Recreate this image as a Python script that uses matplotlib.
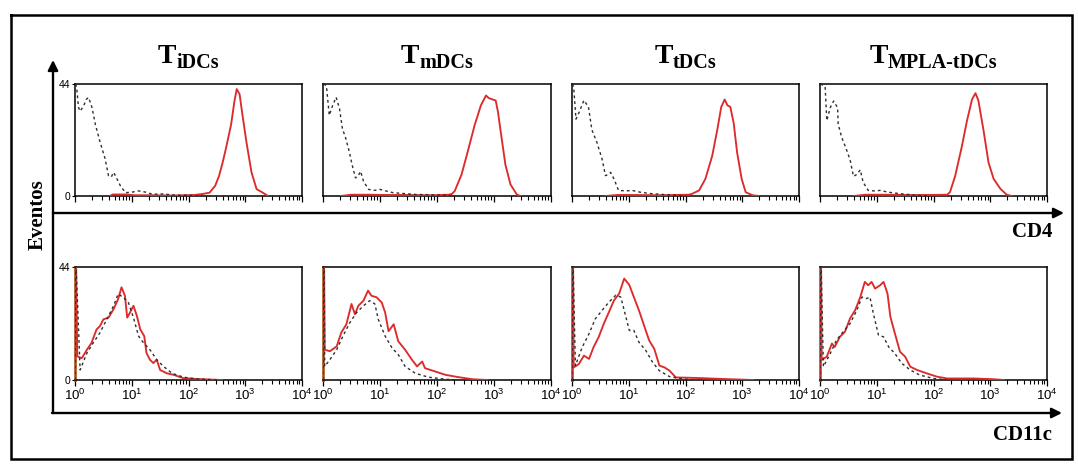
import numpy as np
import matplotlib
matplotlib.use("Agg")
import matplotlib.pyplot as plt

plt.rcParams['mathtext.fontset'] = 'custom'
plt.rcParams['mathtext.rm'] = 'Liberation Sans'
plt.rcParams['mathtext.it'] = 'Liberation Sans:italic'
plt.rcParams['mathtext.bf'] = 'Liberation Sans:bold'
plt.rcParams['font.family'] = ['Liberation Sans', 'DejaVu Sans']

# ---------------- data (x in log10 units of fluorescence, y = events) ----------------
groups = ["iDCs", "mDCs", "tDCs", "MPLA-tDCs"]
x_tick_labels = [r"$10^{0}$", r"$10^{1}$", r"$10^{2}$", r"$10^{3}$", r"$10^{4}$"]
y_tick_values = [0, 44]
y_tick_labels = ["0", "44"]

# CD4 row
cd4_iDCs_stain_x = [0.62, 0.66, 0.9, 1.05, 1.3, 1.7, 2.1, 2.25, 2.37, 2.47, 2.54, 2.60, 2.66, 2.75, 2.81, 2.85, 2.90, 2.95, 3.02, 3.11, 3.20, 3.31, 3.40]
cd4_iDCs_stain_y = [0, 0.6, 0.6, 0.3, 0.3, 0.2, 0.4, 0.8, 1.3, 4, 8, 13, 18.7, 28, 37.3, 42, 40, 32, 21.3, 9.3, 2.7, 1.3, 0]
cd4_iDCs_ctrl_x = [0.01, 0.03, 0.06, 0.09, 0.15, 0.20, 0.24, 0.30, 0.36, 0.44, 0.53, 0.59, 0.64, 0.68, 0.74, 0.80, 0.89, 1.0, 1.12, 1.25, 1.36, 1.55, 1.78, 2.0, 2.19, 2.4]
cd4_iDCs_ctrl_y = [44, 42.7, 35, 33.3, 35.3, 38, 38.7, 34.7, 28, 21.3, 14.7, 8, 7.5, 9.3, 6.7, 4, 1.3, 1.5, 2, 1.5, 0.7, 0.8, 0.3, 0.3, 0, 0]

cd4_mDCs_stain_x = [0.31, 0.5, 0.8, 1.1, 1.5, 1.9, 2.2, 2.26, 2.31, 2.43, 2.54, 2.66, 2.77, 2.86, 2.90, 2.94, 3.03, 3.07, 3.11, 3.20, 3.29, 3.40, 3.46]
cd4_mDCs_stain_y = [0, 0.5, 0.5, 0.4, 0.4, 0.3, 0.5, 0.8, 1.9, 8.4, 17.5, 27.8, 35.6, 39.5, 38.6, 38.2, 37.5, 33, 26.5, 12.3, 4.5, 0.6, 0]
cd4_mDCs_ctrl_x = [0.01, 0.06, 0.11, 0.17, 0.23, 0.29, 0.34, 0.40, 0.46, 0.51, 0.57, 0.62, 0.66, 0.71, 0.80, 0.9, 1.0, 1.1, 1.23, 1.4, 1.63, 1.9, 2.14, 2.3]
cd4_mDCs_ctrl_y = [44, 43.3, 31.7, 35.6, 38.8, 34.3, 26.5, 22.6, 17.5, 12.3, 7.1, 8, 9.7, 5.8, 2.6, 2.2, 2.6, 2.0, 1.3, 1.0, 0.6, 0.5, 0.3, 0]

cd4_tDCs_stain_x = [0.59, 0.8, 1.1, 1.5, 1.8, 2.06, 2.12, 2.24, 2.35, 2.47, 2.56, 2.63, 2.69, 2.74, 2.79, 2.85, 2.91, 2.99, 3.06, 3.18, 3.29]
cd4_tDCs_stain_y = [0, 0.4, 0.4, 0.3, 0.4, 0.5, 0.9, 2.2, 6.7, 15.7, 26, 35, 37.9, 35.6, 35, 28.5, 17, 6.7, 1.5, 0.3, 0]
cd4_tDCs_ctrl_x = [0.01, 0.03, 0.07, 0.13, 0.21, 0.29, 0.35, 0.44, 0.53, 0.59, 0.64, 0.68, 0.74, 0.82, 0.95, 1.06, 1.2, 1.41, 1.6, 1.82, 2.0]
cd4_tDCs_ctrl_y = [44, 42.7, 30.2, 33.1, 37.6, 35, 26, 21, 14.5, 8, 8.5, 9.3, 6.7, 2.2, 2.0, 2.2, 1.5, 0.9, 0.6, 0.3, 0]

cd4_MPLA_stain_x = [0.59, 0.8, 1.1, 1.5, 1.9, 2.24, 2.29, 2.38, 2.5, 2.59, 2.68, 2.74, 2.79, 2.88, 2.97, 3.06, 3.18, 3.29, 3.38]
cd4_MPLA_stain_y = [0, 0.5, 0.5, 0.4, 0.4, 0.5, 1.5, 7.7, 19.5, 29.6, 38, 40.4, 37.6, 26, 13.1, 6.7, 2.8, 0.5, 0]
cd4_MPLA_ctrl_x = [0.01, 0.09, 0.12, 0.18, 0.24, 0.31, 0.32, 0.38, 0.47, 0.53, 0.59, 0.65, 0.71, 0.76, 0.85, 0.95, 1.06, 1.2, 1.41, 1.71, 1.9]
cd4_MPLA_ctrl_y = [44, 43.1, 29.6, 34.7, 37.3, 34.7, 28.3, 23.2, 18, 14.2, 7.7, 8.5, 10.3, 5.4, 2.2, 2.0, 2.2, 1.5, 0.9, 0.3, 0]

# CD11c row
cd11c_iDCs_stain_x = [0.0, 0.01, 0.02, 0.04, 0.12, 0.21, 0.29, 0.38, 0.44, 0.50, 0.59, 0.68, 0.76, 0.82, 0.88, 0.92, 0.97, 1.03, 1.09, 1.15, 1.22, 1.26, 1.32, 1.38, 1.44, 1.50, 1.62, 1.74, 1.91, 2.15, 2.59]
cd11c_iDCs_stain_y = [0, 44, 44, 9.2, 8.5, 11.8, 14.4, 19.7, 21, 23.6, 24.3, 27.6, 31.5, 36.1, 32.8, 24.3, 26.3, 28.9, 25, 19.7, 17.1, 10.5, 7.9, 6.6, 7.9, 3.9, 2.6, 2, 0.7, 0.4, 0]
cd11c_iDCs_ctrl_x = [0.0, 0.01, 0.02, 0.09, 0.21, 0.32, 0.44, 0.56, 0.68, 0.76, 0.85, 0.94, 1.03, 1.12, 1.21, 1.32, 1.44, 1.56, 1.71, 1.91, 2.15, 2.5]
cd11c_iDCs_ctrl_y = [0, 44, 44, 3.9, 10.5, 14.4, 18.4, 23.6, 28.9, 33.5, 32.2, 30.2, 24.3, 17.1, 14.4, 11.8, 7.9, 5.3, 2.6, 1.1, 0.4, 0]

cd11c_mDCs_stain_x = [0.0, 0.01, 0.02, 0.03, 0.12, 0.24, 0.32, 0.41, 0.50, 0.56, 0.62, 0.71, 0.79, 0.85, 0.94, 1.03, 1.09, 1.15, 1.24, 1.32, 1.44, 1.56, 1.65, 1.74, 1.79, 1.97, 2.15, 2.38, 2.62, 2.88]
cd11c_mDCs_stain_y = [0, 44, 44, 11.8, 11.2, 13.1, 18.4, 21.7, 29.6, 25.6, 28.9, 30.9, 34.8, 32.8, 32.2, 30.2, 26.3, 19, 21.7, 15.1, 11.8, 7.9, 5.3, 7.2, 4.6, 3.3, 2, 1.1, 0.3, 0]
cd11c_mDCs_ctrl_x = [0.0, 0.01, 0.02, 0.03, 0.12, 0.24, 0.35, 0.47, 0.59, 0.71, 0.82, 0.91, 0.97, 1.09, 1.21, 1.32, 1.44, 1.62, 1.85, 2.15, 2.38]
cd11c_mDCs_ctrl_y = [0, 44, 44, 5.3, 7.9, 11.8, 17.1, 22.3, 26.3, 28.9, 30.9, 29.6, 23.6, 17.1, 12.5, 9.9, 5.3, 2.6, 1.1, 0.3, 0]

cd11c_tDCs_stain_x = [0.0, 0.01, 0.02, 0.03, 0.12, 0.21, 0.30, 0.38, 0.47, 0.56, 0.65, 0.74, 0.83, 0.92, 1.01, 1.09, 1.18, 1.27, 1.36, 1.45, 1.54, 1.63, 1.72, 1.83, 2.19, 2.66, 3.2]
cd11c_tDCs_stain_y = [0, 44, 44, 4.9, 6.2, 9.5, 8.2, 12.8, 16.7, 21.9, 26.4, 31, 33.6, 39.5, 37, 32.3, 27.1, 21.2, 15.4, 12.1, 5.6, 4.9, 3.6, 1, 0.8, 0.4, 0]
cd11c_tDCs_ctrl_x = [0.0, 0.01, 0.02, 0.06, 0.18, 0.30, 0.41, 0.53, 0.65, 0.77, 0.86, 0.92, 1.01, 1.09, 1.18, 1.30, 1.42, 1.54, 1.72, 1.95, 2.19]
cd11c_tDCs_ctrl_y = [0, 44, 44, 5.6, 12.8, 18, 23.8, 27.1, 30.3, 33, 32.3, 27.1, 19.3, 19.3, 14.7, 11.5, 6.9, 3.6, 1.3, 0.4, 0]

cd11c_MPLA_stain_x = [0.0, 0.01, 0.02, 0.03, 0.12, 0.21, 0.26, 0.35, 0.44, 0.53, 0.62, 0.71, 0.79, 0.85, 0.91, 0.97, 1.06, 1.12, 1.19, 1.24, 1.32, 1.41, 1.50, 1.59, 1.71, 1.88, 2.06, 2.24, 2.71, 3.06, 3.24]
cd11c_MPLA_stain_y = [0, 44, 44, 7.8, 9.1, 14.2, 12.9, 16.8, 18.8, 24, 27.2, 32.3, 38.2, 36.9, 38.2, 35.6, 36.9, 38.2, 33.6, 24.6, 18.1, 11, 9.1, 5.2, 3.9, 2.6, 1.3, 0.6, 0.6, 0.3, 0]
cd11c_MPLA_ctrl_x = [0.0, 0.01, 0.02, 0.06, 0.18, 0.29, 0.41, 0.53, 0.65, 0.74, 0.82, 0.88, 0.94, 1.03, 1.12, 1.21, 1.32, 1.44, 1.59, 1.76, 2.0, 2.24]
cd11c_MPLA_ctrl_y = [0, 44, 44, 5.2, 10.3, 15.5, 18.8, 22, 27.2, 32.3, 31.7, 32.3, 25.9, 17.5, 16.8, 12.9, 10.3, 6.5, 3.9, 1.9, 0.6, 0]

top_row = [
    (cd4_iDCs_stain_x, cd4_iDCs_stain_y, cd4_iDCs_ctrl_x, cd4_iDCs_ctrl_y),
    (cd4_mDCs_stain_x, cd4_mDCs_stain_y, cd4_mDCs_ctrl_x, cd4_mDCs_ctrl_y),
    (cd4_tDCs_stain_x, cd4_tDCs_stain_y, cd4_tDCs_ctrl_x, cd4_tDCs_ctrl_y),
    (cd4_MPLA_stain_x, cd4_MPLA_stain_y, cd4_MPLA_ctrl_x, cd4_MPLA_ctrl_y),
]
bottom_row = [
    (cd11c_iDCs_stain_x, cd11c_iDCs_stain_y, cd11c_iDCs_ctrl_x, cd11c_iDCs_ctrl_y),
    (cd11c_mDCs_stain_x, cd11c_mDCs_stain_y, cd11c_mDCs_ctrl_x, cd11c_mDCs_ctrl_y),
    (cd11c_tDCs_stain_x, cd11c_tDCs_stain_y, cd11c_tDCs_ctrl_x, cd11c_tDCs_ctrl_y),
    (cd11c_MPLA_stain_x, cd11c_MPLA_stain_y, cd11c_MPLA_ctrl_x, cd11c_MPLA_ctrl_y),
]

# ---------------- layout ----------------
W, H = 1078, 465
fig = plt.figure(figsize=(W / 100, H / 100), dpi=100)
fig.patch.set_facecolor("white")

bg = fig.add_axes([0, 0, 1, 1], zorder=0)
bg.set_xlim(0, W)
bg.set_ylim(H, 0)
bg.axis("off")

RED = "#dd2b2b"
DARK = "#2e2e2e"
BROWN = "#b0602a"
SERIF = ["Liberation Serif", "DejaVu Serif"]

cols = [(75, 302), (323, 551), (572, 799), (820, 1047)]
rows = [(84, 196), (267, 380)]


def px_axes(l, t, r, b):
    return fig.add_axes([l / W, 1 - b / H, (r - l) / W, (b - t) / H], zorder=2)


for ri, (t, b) in enumerate(rows):
    data = top_row if ri == 0 else bottom_row
    for ci, (l, r) in enumerate(cols):
        ax = px_axes(l, t, r, b)
        sx, sy, cx, cy = data[ci]
        ax.plot(10 ** np.asarray(sx), sy, color=RED, lw=1.35, zorder=3)
        ax.plot(10 ** np.asarray(cx), cy, color=DARK, lw=1.0,
                linestyle=(0, (2.0, 2.2)), zorder=4)
        ax.set_xscale("log")
        ax.set_xlim(1, 1e4)
        ax.set_ylim(0, 44)
        for s in ax.spines.values():
            s.set_linewidth(1.1)
            s.set_color("black")
        if ri == 1:
            ax.spines["left"].set_color(BROWN)
            ax.spines["left"].set_linewidth(2.0)
        ax.tick_params(axis="x", which="major", direction="out", length=4,
                       width=0.9, top=False, pad=1.5, labelsize=9.5)
        ax.tick_params(axis="x", which="minor", direction="out", length=3,
                       width=0.8, top=False)
        ax.set_xticks([1, 10, 100, 1000, 10000])
        if ri == 1:
            ax.set_xticklabels(x_tick_labels)
        else:
            ax.set_xticklabels([])
        if ci == 0:
            ax.set_yticks(y_tick_values)
            ax.set_yticklabels(y_tick_labels, fontsize=7.5)
            ax.tick_params(axis="y", direction="out", length=2.5, width=0.8, pad=1)
        else:
            ax.set_yticks([])
        ax.set_facecolor("none")

# ---------------- frames and arrows ----------------
bg.plot([11, 1072, 1072, 11, 11], [15, 15, 459, 459, 15], color="black", lw=1.8,
        solid_joinstyle="miter")
arrow_kw = dict(arrowstyle="-|>", color="black", lw=1.7, mutation_scale=15,
                shrinkA=0, shrinkB=0)
bg.annotate("", xy=(53, 60), xytext=(53, 413), arrowprops=arrow_kw)
bg.annotate("", xy=(1064, 213), xytext=(53, 213), arrowprops=arrow_kw)
bg.annotate("", xy=(1062, 413), xytext=(52, 413), arrowprops=arrow_kw)

bg.text(38, 215, "Eventos", rotation=90, ha="center", va="center",
        fontsize=15, fontweight="bold", family=SERIF)
bg.text(1052, 232, "CD4", ha="right", va="center", fontsize=15,
        fontweight="bold", family=SERIF)
bg.text(1052, 435, "CD11c", ha="right", va="center", fontsize=15,
        fontweight="bold", family=SERIF)

# ---------------- titles: T with subscript ----------------
fig.canvas.draw()
renderer = fig.canvas.get_renderer()
baseline = 63
for ci, (l, r) in enumerate(cols):
    tT = bg.text(0, 0, "T", fontsize=20, fontweight="bold", family=SERIF,
                 ha="left", va="baseline")
    tS = bg.text(0, 0, groups[ci], fontsize=14.5, fontweight="bold", family=SERIF,
                 ha="left", va="baseline")
    wT = tT.get_window_extent(renderer).width
    wS = tS.get_window_extent(renderer).width
    x0 = (l + r) / 2 - (wT + wS) / 2
    tT.set_position((x0, baseline))
    tS.set_position((x0 + wT, baseline + 5))

fig.savefig("out.png", dpi=100, facecolor="white")
